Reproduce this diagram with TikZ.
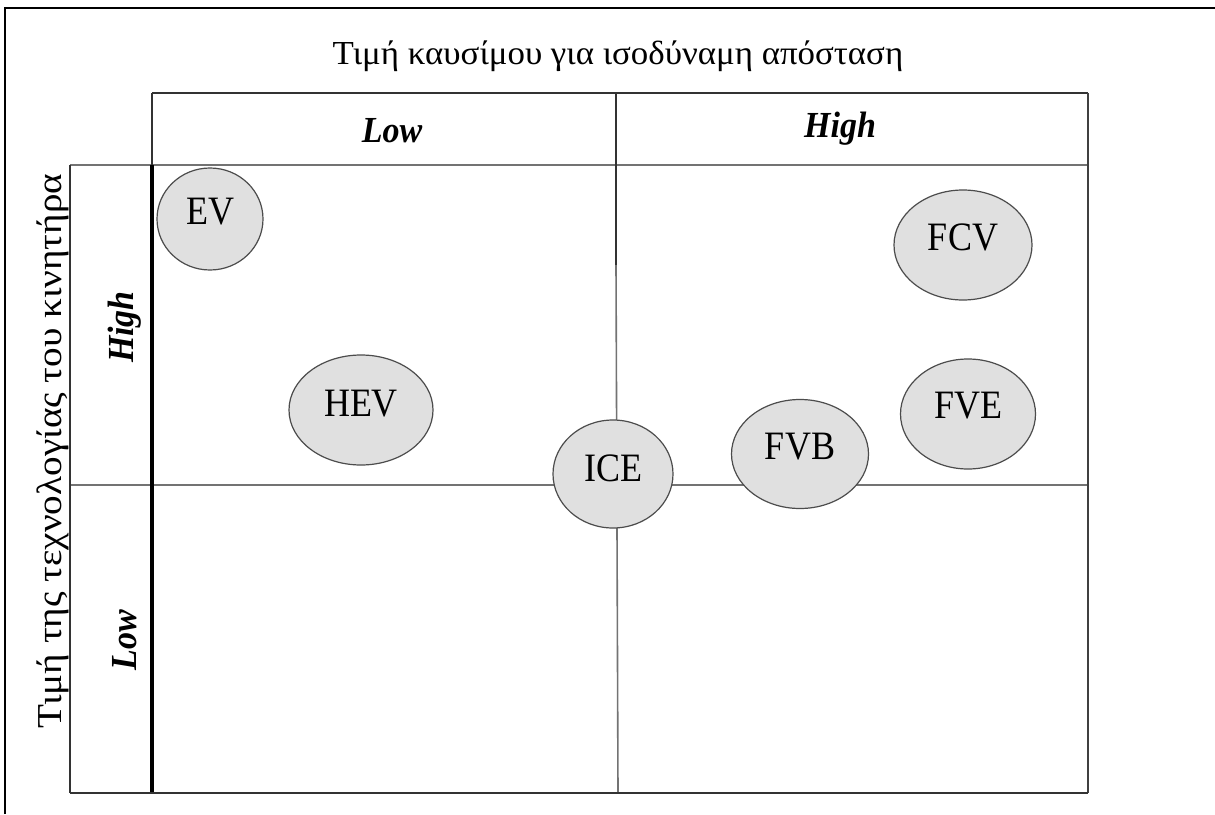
\documentclass[tikz,border=0pt]{standalone}
\usepackage{fontspec}
\setmainfont{Liberation Serif}
\usetikzlibrary{shapes.geometric}
\begin{document}
\begin{tikzpicture}[x=1pt,y=-1pt,
  gridline/.style={line width=2.2pt,black!55},
  thinline/.style={line width=1.6pt,black!55},
  veh/.style={ellipse,draw=black!70,line width=1.2pt,fill=black!12,inner sep=0pt},
  vlab/.style={font=\fontsize{36}{36}\selectfont},
  hdr/.style={font=\fontsize{34}{34}\selectfont\bfseries\itshape},
  ttl/.style={font=\fontsize{32}{32}\selectfont},
  lttl/.style={font=\fontsize{35}{35}\selectfont}
]
\useasboundingbox (0,0) rectangle (1215,814);
\fill[white] (0,0) rectangle (1215,814);
% outer frame (top and left)
\coordinate (F0) at (5,814);
\coordinate (F1) at (5,8);
\coordinate (F2) at (1215,8);
\draw[line width=1.8pt] (F0) -- (F1) -- (F2);
% titles
\node[ttl] (title) at (618,56) {\scalebox{1.09}[1.05]{Τιμή καυσίμου για ισοδύναμη απόσταση}};
\node[lttl,rotate=90] (ltitle) at (53,451) {\scalebox{1.12}[1]{Τιμή της τεχνολογίας του κινητήρα}};
% grid coordinates
\coordinate (TL) at (152,93);
\coordinate (TR) at (1088,93);
\coordinate (TM) at (616,93);
\coordinate (HL) at (70,165);
\coordinate (HR) at (1088,165);
\coordinate (HC) at (152,165);
\coordinate (ML) at (70,485);
\coordinate (MR) at (1088,485);
\coordinate (BL) at (70,793);
\coordinate (BC) at (152,793);
\coordinate (BR) at (1088,793);
\coordinate (MM) at (616,265);
\coordinate (BM) at (618,793);
% grid lines
\draw[gridline] (HL) -- (HR);
\draw[thinline] (ML) -- (MR);
\draw[thinline] (MM) -- (BM);
\draw[line width=2.6pt,black!80] (TL) -- (TR);
\draw[line width=1.5pt,black!80] (TM) -- (MM);
\draw[line width=1.6pt,black!80] (TL) -- (BC);
\draw[line width=3.5pt,black] (HC) -- (BC);
\draw[line width=1.8pt,black!75] (TR) -- (BR);
\draw[line width=1.8pt,black!80] (HL) -- (BL);
\draw[line width=2.6pt,black!80] (BL) -- (BR);
% headers
\node[hdr] (hlow) at (392,131) {\scalebox{1}[1.08]{Low}};
\node[hdr] (hhigh) at (840,129) {\scalebox{1}[1.08]{High}};
\node[hdr,rotate=90] (vhigh) at (125,327) {\scalebox{1}[1.08]{High}};
\node[hdr,rotate=90] (vlow) at (125,640) {\scalebox{1}[1.08]{Low}};
% vehicles
\node[veh,minimum width=106pt,minimum height=102pt] (EV) at (210,219) {};
\node[vlab] at (210,212) {\scalebox{1}[1.12]{EV}};
\node[veh,minimum width=144pt,minimum height=110pt] (HEV) at (361,410) {};
\node[vlab] at (361,404) {\scalebox{1}[1.12]{HEV}};
\node[veh,minimum width=120pt,minimum height=108pt] (ICE) at (613,474) {};
\node[vlab] at (613,468) {\scalebox{1}[1.12]{ICE}};
\node[veh,minimum width=137pt,minimum height=109pt] (FVB) at (800,454) {};
\node[vlab] at (800,447) {\scalebox{1}[1.12]{FVB}};
\node[veh,minimum width=138pt,minimum height=110pt] (FCV) at (963,245) {};
\node[vlab] at (963,237) {\scalebox{1}[1.12]{FCV}};
\node[veh,minimum width=135pt,minimum height=110pt] (FVE) at (968,414) {};
\node[vlab] at (968,406) {\scalebox{1}[1.12]{FVE}};
\end{tikzpicture}
\end{document}
